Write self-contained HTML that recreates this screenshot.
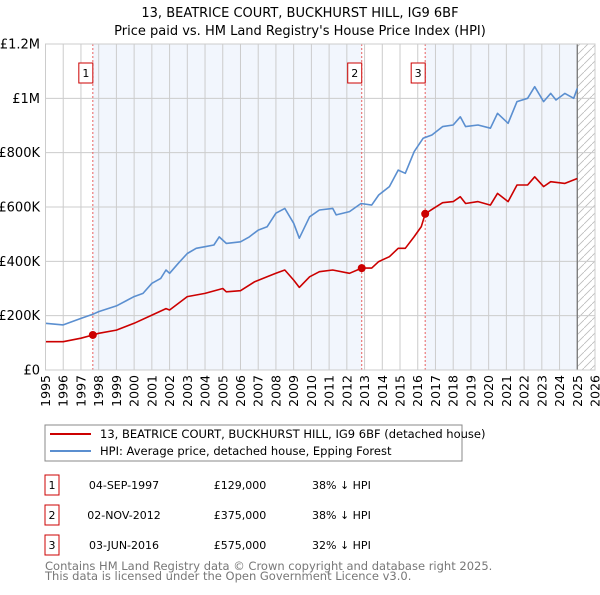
<!DOCTYPE html>
<html><head><meta charset="utf-8"><style>
body{margin:0;background:#fff;}
svg text{font-family:"DejaVu Sans","Liberation Sans",sans-serif;}
</style></head><body>
<svg id="chart" width="600" height="590" xmlns="http://www.w3.org/2000/svg">
<text x="300" y="17" text-anchor="middle" font-size="13">13, BEATRICE COURT, BUCKHURST HILL, IG9 6BF</text>
<text x="300" y="35" text-anchor="middle" font-size="13">Price paid vs. HM Land Registry's House Price Index (HPI)</text>
<g id="plot"></g>
<rect x="45" y="425" width="417" height="36" fill="#fff" stroke="#888"/>
<line x1="50" y1="434" x2="91" y2="434" stroke="#cc0000" stroke-width="2"/>
<text x="100" y="438" font-size="11.5">13, BEATRICE COURT, BUCKHURST HILL, IG9 6BF (detached house)</text>
<line x1="50" y1="451" x2="91" y2="451" stroke="#5b8fd0" stroke-width="2"/>
<text x="100" y="455" font-size="11.5">HPI: Average price, detached house, Epping Forest</text>
<g id="table" font-size="11"></g>
<text x="45" y="570" font-size="11.5" fill="#777">Contains HM Land Registry data © Crown copyright and database right 2025.</text>
<text x="45" y="580" font-size="11.5" fill="#777">This data is licensed under the Open Government Licence v3.0.</text>
</svg>
<script>
const hpiYears=[1995,1996,1997,1997.67,1998,1999,2000,2000.5,2001,2001.5,2001.8,2002,2002.5,2003,2003.5,2004,2004.5,2004.8,2005.2,2006,2006.5,2007,2007.5,2008,2008.5,2009,2009.32,2009.9,2010.45,2011.2,2011.4,2012.15,2012.8,2013.4,2013.8,2014.4,2014.9,2015.3,2015.8,2016.3,2016.8,2017.4,2018,2018.4,2018.7,2019.4,2020.1,2020.5,2021.1,2021.6,2022.2,2022.6,2023.1,2023.5,2023.8,2024.3,2024.8,2025];
const hpiValues=[172,166,190,205,215,236,270,282,319,337,368,356,393,429,448,454,460,490,466,472,490,515,527,577,595,540,485,564,589,595,571,583,613,607,644,675,736,724,804,853,865,896,902,932,896,902,890,945,908,988,1000,1043,988,1018,994,1018,1000,1037];
const redYears=[1995,1996,1997,1997.67,1998,1999,2000,2001,2001.8,2002,2003,2004,2005,2005.2,2006,2006.8,2007.5,2008,2008.5,2009,2009.32,2009.9,2010.45,2011.2,2012.15,2012.84,2013.4,2013.8,2014.4,2014.9,2015.3,2015.8,2016.2,2016.42,2016.8,2017.4,2018,2018.4,2018.7,2019.4,2020.1,2020.5,2021.1,2021.6,2022.2,2022.6,2023.1,2023.5,2024.3,2025];
const redValues=[104,104,117,129,135,147,172,202,226,221,270,282,300,288,292,325,343,356,368,331,304,343,362,368,356,375,375,399,417,448,448,491,528,575,591,616,620,638,613,620,607,650,620,681,681,711,675,693,687,705];
const saleLabels=["1","2","3"];
const saleYears=[1997.67,2012.84,2016.42];
const saleValues=[129,375,575];
const saleDates=["04-SEP-1997","02-NOV-2012","03-JUN-2016"];
const salePrices=["£129,000","£375,000","£575,000"];
const salePcts=["38% ↓ HPI","38% ↓ HPI","32% ↓ HPI"];
const yTicks=[0,200,400,600,800,1000,1200];
const yTickLabels=["£0","£200K","£400K","£600K","£800K","£1M","£1.2M"];

const NS="http://www.w3.org/2000/svg";
const L=45.5,R=595,T=44,B=370,Y0=1995,Y1=2026,VMAX=1200;
const xs=y=>L+(y-Y0)*(R-L)/(Y1-Y0);
const ys=v=>B-v*(B-T)/VMAX;
const plot=document.getElementById('plot');
function mk(tag,attrs,parent){const e=document.createElementNS(NS,tag);for(const k in attrs)e.setAttribute(k,attrs[k]);(parent||plot).appendChild(e);return e;}
let r=mk('rect',{x:L,y:T,width:R-L,height:B-T,fill:'#fff'});


r=mk('rect',{x:xs(saleYears[0]),y:T,width:xs(saleYears[1])-xs(saleYears[0]),height:B-T,fill:'#eef3fc',opacity:0.75});


r=mk('rect',{x:xs(saleYears[2]),y:T,width:xs(2025)-xs(saleYears[2]),height:B-T,fill:'#eef3fc',opacity:0.75});


const defs=mk('defs',{});
const pat=mk('pattern',{id:'hatch',width:8,height:8,patternUnits:'userSpaceOnUse'},defs);
mk('path',{d:'M0,8 L8,0',stroke:'#bbb','stroke-width':0.8},pat);
r=mk('rect',{x:xs(2025),y:T,width:R-xs(2025),height:B-T,fill:'url(#hatch)'});


for(let y=Y0;y<=Y1;y++){
 const g=mk('line',{x1:xs(y),x2:xs(y),y1:T,y2:B,stroke:'#ccc','stroke-width':1});
 
 
 const t=mk('text',{x:0,y:0,'font-size':12.5,'text-anchor':'end',transform:`translate(${xs(y)+4.5},${B+5}) rotate(-90)`});
 t.textContent=y;
 
 
}
yTicks.forEach((v,i)=>{
 const g=mk('line',{x1:L,x2:R,y1:ys(v),y2:ys(v),stroke:'#ccc','stroke-width':1});
 
 
 const t=mk('text',{x:40,y:ys(v)+4.5,'font-size':13,'text-anchor':'end'});
 t.textContent=yTickLabels[i];
 
 
});
let ln=mk('line',{x1:xs(2025),x2:xs(2025),y1:T,y2:B,stroke:'#777','stroke-width':1.3});


saleYears.forEach((y,i)=>{
 const l=mk('line',{x1:xs(y),x2:xs(y),y1:T,y2:B,stroke:'#e86060','stroke-width':1,'stroke-dasharray':'2,2'});
 
 
 const b=mk('rect',{x:xs(y)-14,y:63,width:14,height:20,fill:'#fff',stroke:'#cc0000'});
 
 
 const t=mk('text',{x:xs(y)-7,y:77,'font-size':11,'text-anchor':'middle'});
 t.textContent=saleLabels[i];
 
 
});
function path(xa,va,color,name){
 const d=xa.map((y,i)=>(i?'L':'M')+xs(y).toFixed(1)+','+ys(va[i]).toFixed(1)).join(' ');
 const p=mk('path',{d:d,fill:'none',stroke:color,'stroke-width':1.6,'stroke-linejoin':'round'});
 
 
}
path(hpiYears,hpiValues,'#5b8fd0','hpi-line');
path(redYears,redValues,'#cc0000','property-price-line');
saleYears.forEach((y,i)=>{
 const c=mk('circle',{cx:xs(y),cy:ys(saleValues[i]),r:4,fill:'#cc0000'});
 
 
});
const ax=mk('rect',{x:L,y:T,width:R-L,height:B-T,fill:'none',stroke:'#ccc'});


const tb=document.getElementById('table');
saleLabels.forEach((lab,i)=>{
 const y0=475+i*30;
 const b=mk('rect',{x:45,y:y0,width:14,height:20,fill:'#fff',stroke:'#cc0000'},tb);
 
 
 const vals=[[52,lab,'middle'],[124,saleDates[i],'middle'],[240,salePrices[i],'middle'],[312,salePcts[i],'start']];
 vals.forEach(v=>{
  const t=mk('text',{x:v[0],y:y0+14,'text-anchor':v[2]},tb);
  t.textContent=v[1];
  
  
 });
});
</script>
</body></html>
